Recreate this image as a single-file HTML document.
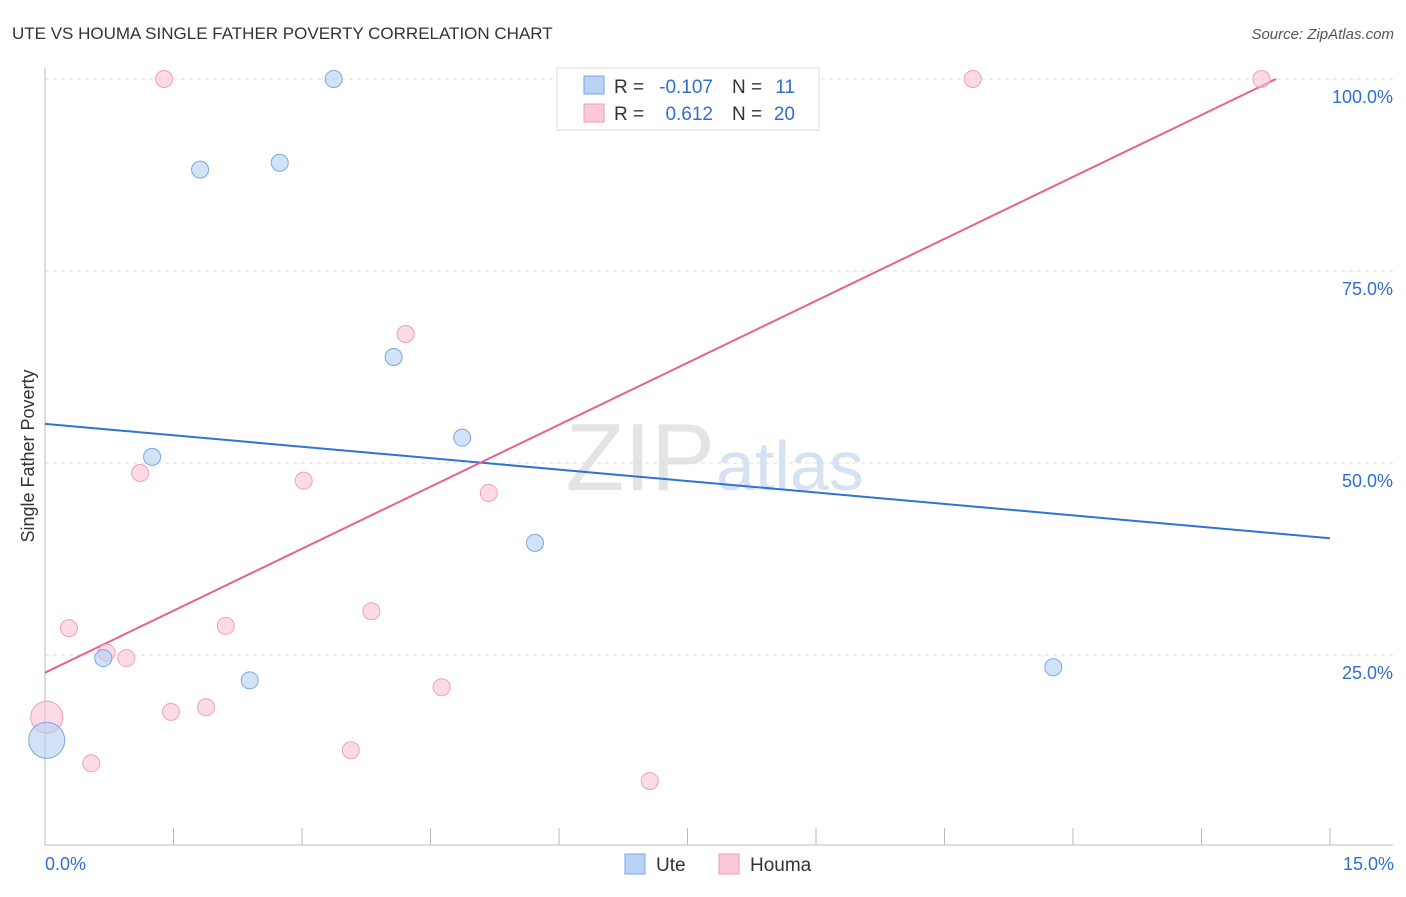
<!DOCTYPE html>
<html><head><meta charset="utf-8"><style>
body{margin:0;background:#fff;font-family:"Liberation Sans",sans-serif;}
svg text{font-family:"Liberation Sans",sans-serif;}
</style></head><body>
<svg id="chart" width="1406" height="892">
<text x="12" y="39" font-size="17" fill="#333">UTE VS HOUMA SINGLE FATHER POVERTY CORRELATION CHART</text>
<text x="1394" y="39" font-size="15" fill="#555" font-style="italic" text-anchor="end">Source: ZipAtlas.com</text>
<text x="715" y="490" font-size="96" fill="#e4e4e4" font-family="Liberation Serif" text-anchor="end">ZIP</text>
<text x="716" y="490" font-size="70" fill="#d4e2f4">atlas</text>
<text transform="translate(34,456) rotate(-90)" font-size="18" fill="#333" text-anchor="middle">Single Father Poverty</text>
<g id="grid"></g><g id="lines"></g><g id="pts"></g>
<g>
<rect x="557" y="68" width="262" height="62" fill="#fff" stroke="#ddd"/>
<rect x="584" y="76" width="20" height="18" fill="#b8d3f5" stroke="#7aa7e0"/>
<rect x="584" y="104" width="20" height="18" fill="#fcc9d8" stroke="#f19bb5"/>
<text x="614" y="93" font-size="19" fill="#333">R =</text>
<text x="713" y="93" font-size="19" fill="#2f6fd0" text-anchor="end">-0.107</text>
<text x="732" y="93" font-size="19" fill="#333">N =</text>
<text x="795" y="93" font-size="19" fill="#2f6fd0" text-anchor="end">11</text>
<text x="614" y="120" font-size="19" fill="#333">R =</text>
<text x="713" y="120" font-size="19" fill="#2f6fd0" text-anchor="end">0.612</text>
<text x="732" y="120" font-size="19" fill="#333">N =</text>
<text x="795" y="120" font-size="19" fill="#2f6fd0" text-anchor="end">20</text>
</g>
<g>
<rect x="625" y="854" width="20" height="20" fill="#b8d3f5" stroke="#7aa7e0"/>
<text x="656" y="871" font-size="19" fill="#333">Ute</text>
<rect x="719" y="854" width="20" height="20" fill="#fcc9d8" stroke="#f19bb5"/>
<text x="750" y="871" font-size="19" fill="#333">Houma</text>
</g>
<text x="45" y="870" font-size="18" fill="#2f6fd0">0.0%</text>
<text x="1394" y="870" font-size="18" fill="#2f6fd0" text-anchor="end">15.0%</text>
</svg>
<script>
const uteX=[0.68,1.25,1.81,2.39,2.74,3.37,4.07,4.87,5.72,11.77,0.02];
const uteY=[24.6,50.8,88.2,21.7,89.1,100,63.8,53.3,39.6,23.4,13.9];
const houX=[1.39,0.28,0.54,0.72,0.95,1.11,1.47,1.88,2.11,3.02,3.57,3.81,4.21,4.63,5.18,7.06,7.37,10.83,14.2,0.02];
const houY=[100,28.5,10.9,25.3,24.6,48.7,17.6,18.2,28.8,47.7,12.6,30.7,66.8,20.8,46.1,8.6,100,100,100,16.9];
const uteLine=[55.1,40.2];
const houLine=[22.7,100.0];
const houLineEndX=14.37;
const yTicks=[25,50,75,100];
const yTickLabels=["25.0%","50.0%","75.0%","100.0%"];
const xs=v=>45+v/15*1285, ys=v=>847-v*7.68;
const NS="http://www.w3.org/2000/svg";
function mk(t,a,p){const e=document.createElementNS(NS,t);for(const k in a)e.setAttribute(k,a[k]);p.appendChild(e);return e;}
const g=document.getElementById('grid');
yTicks.forEach((t,i)=>{
 const l=mk('line',{x1:45,x2:1393,y1:ys(t),y2:ys(t),stroke:'#ddd','stroke-dasharray':'4,4'},g);
 
 
 const tx=mk('text',{x:1393,y:ys(t)+24,'font-size':18,fill:'#2f6fd0','text-anchor':'end'},g);
 tx.textContent=yTickLabels[i];
 
 
});
const ax=mk('line',{x1:45,x2:1393,y1:845,y2:845,stroke:'#bbb'},g);


const ay=mk('line',{x1:45,x2:45,y1:68,y2:845,stroke:'#bbb'},g);


for(let i=0;i<=10;i++){const t=mk('line',{x1:xs(i*1.5),x2:xs(i*1.5),y1:828,y2:845,stroke:'#bbb'},g);
 
 }
const L=document.getElementById('lines');
const bl=mk('line',{x1:xs(0),y1:ys(uteLine[0]),x2:xs(15),y2:ys(uteLine[1]),stroke:'#2f73d6','stroke-width':2},L);


const pl=mk('line',{x1:xs(0),y1:ys(houLine[0]),x2:xs(houLineEndX),y2:ys(houLine[1]),stroke:'#e8628f','stroke-width':2},L);


const P=document.getElementById('pts');
houX.forEach((x,i)=>{const c=mk('circle',{cx:xs(x),cy:ys(houY[i]),r:i==19?16:8.5,fill:'rgba(250,190,210,0.55)',stroke:'#f0a0b8'},P);
 
 });
uteX.forEach((x,i)=>{const c=mk('circle',{cx:xs(x),cy:ys(uteY[i]),r:i==10?18:8.5,fill:'rgba(180,208,245,0.6)',stroke:'#7aa7e0'},P);
 
 });
</script>
</body></html>
